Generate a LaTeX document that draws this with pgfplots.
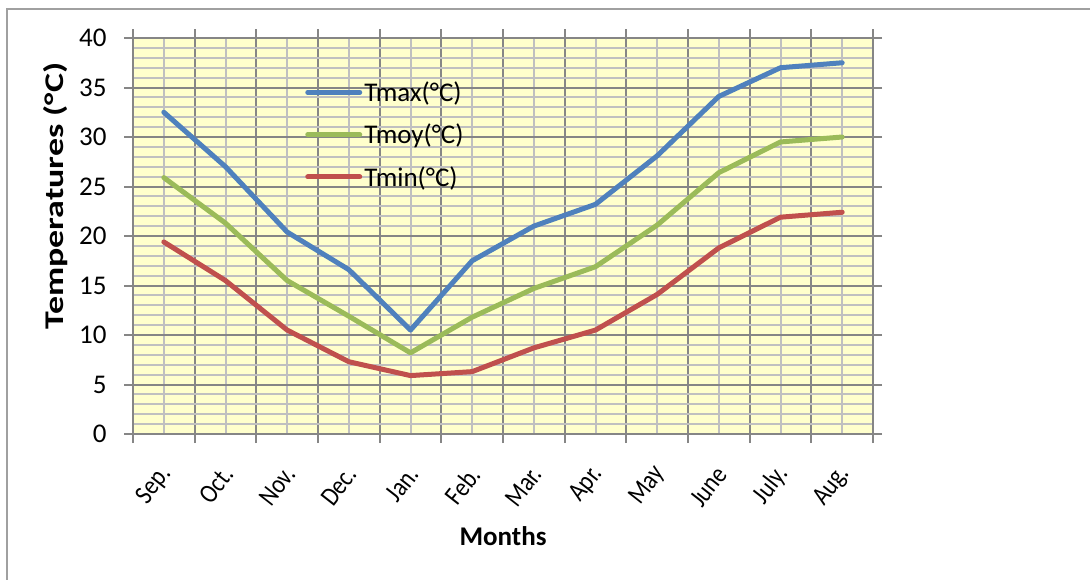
\documentclass[border=0pt]{standalone}
\usepackage{fontspec}
\setmainfont{Carlito}
\usepackage{graphicx}
\usepackage{pgfplots}
\pgfplotsset{compat=1.18}

\definecolor{tmaxc}{RGB}{79,129,189}
\definecolor{tmoyc}{RGB}{155,187,89}
\definecolor{tminc}{RGB}{192,80,77}
\definecolor{plotbg}{RGB}{255,255,204}
\definecolor{majgrid}{RGB}{134,134,134}
\definecolor{mingrid}{RGB}{192,192,192}
\definecolor{framec}{RGB}{160,160,160}

\newcommand{\chartfont}{\fontsize{27}{32}\selectfont}
% month names are set slightly condensed
\newcommand{\mon}[1]{\scalebox{0.85}[1]{#1}}

\begin{document}
\begin{tikzpicture}[x=1pt,y=1pt]
\useasboundingbox (0,0) rectangle (1090,-579);
\draw[framec, line width=2pt] (7,-600) |- (1110,-9);
\begin{axis}[
  at={(133pt,-434pt)}, anchor=south west,
  scale only axis, width=740pt, height=396pt,
  xmin=-0.5, xmax=11.5, ymin=0, ymax=40,
  axis background/.style={fill=plotbg},
  axis line style={majgrid, line width=2pt},
  tick style={majgrid, line width=2pt},
  tick align=outside,
  major tick length=9pt,
  minor tick length=0pt,
  xtick={-0.5,0.5,1.5,2.5,3.5,4.5,5.5,6.5,7.5,8.5,9.5,10.5,11.5},
  xticklabels={},
  minor xtick={0,1,2,3,4,5,6,7,8,9,10,11},
  extra x ticks={0,1,2,3,4,5,6,7,8,9,10,11},
  extra x tick labels={\mon{Sep.},\mon{Oct.},\mon{Nov.},\mon{Dec.},\mon{Jan.},\mon{Feb.},
    \mon{Mar.},\mon{Apr.},\mon{May},\mon{June},\mon{July.},\mon{Aug.}},
  extra x tick style={grid=none, major tick length=0pt,
    tick label style={xshift=5pt, yshift=-33pt, rotate=52, anchor=east,
      font=\chartfont}},
  ytick={0,5,...,40},
  minor ytick={0,1,...,40},
  yticklabel style={font=\chartfont, anchor=east, xshift=-14pt},
  /pgf/number format/assume math mode=true,
  grid=both,
  major grid style={majgrid, line width=2pt},
  minor grid style={mingrid, line width=2pt},
  xlabel={\bfseries Months},
  xlabel style={font=\chartfont, at={(axis description cs:0.5,-0.258)}, anchor=center},
  ylabel={\scalebox{1.33}[1]{\bfseries Temperatures (°C)}},
  ylabel style={font=\chartfont, at={(axis description cs:-0.105,0.601)}, anchor=center},
  legend style={at={(axis cs:2.29,35.8)}, anchor=north west, draw=none, fill=none,
    font=\chartfont, row sep=17pt, inner sep=0pt},
  legend cell align=left,
  legend image code/.code={\draw[#1, line width=5pt, line cap=round] (0pt,0pt) -- (52pt,0pt);},
  every axis plot/.append style={line width=5pt, line join=round, line cap=round},
]
% maximum, mean and minimum monthly temperatures
\addplot[tmaxc] coordinates {
  (0,32.5) (1,27.0) (2,20.4) (3,16.6) (4,10.5) (5,17.5)
  (6,21.0) (7,23.2) (8,28.1) (9,34.1) (10,37.0) (11,37.5)};
\addlegendentry{Tmax(°C)}
\addplot[tmoyc] coordinates {
  (0,25.9) (1,21.3) (2,15.5) (3,11.9) (4,8.2) (5,11.8)
  (6,14.7) (7,16.9) (8,21.1) (9,26.4) (10,29.5) (11,30.0)};
\addlegendentry{Tmoy(°C)}
\addplot[tminc] coordinates {
  (0,19.4) (1,15.5) (2,10.5) (3,7.3) (4,5.9) (5,6.3)
  (6,8.7) (7,10.5) (8,14.1) (9,18.8) (10,21.9) (11,22.4)};
\addlegendentry{Tmin(°C)}
\end{axis}
\end{tikzpicture}
\end{document}
